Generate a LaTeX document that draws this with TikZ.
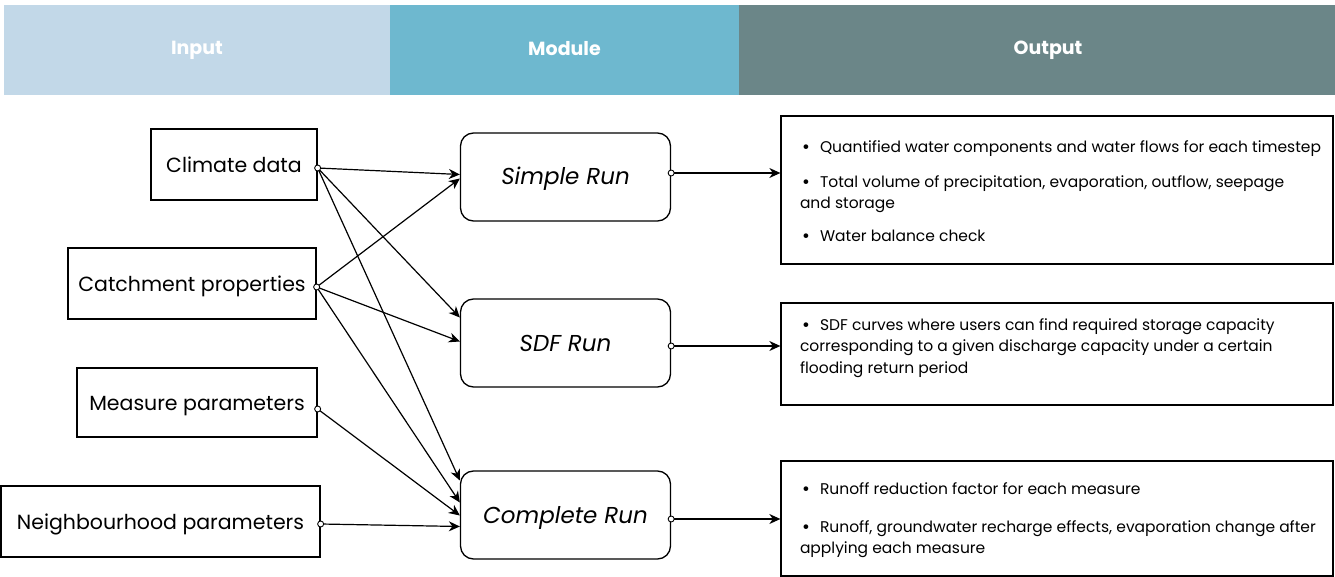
\documentclass[tikz,border=0pt]{standalone}
\usepackage{fontspec}
\setmainfont{Poppins}
\usetikzlibrary{arrows.meta,calc}
\definecolor{hin}{HTML}{C2D8E8}
\definecolor{hmod}{HTML}{6EB8CF}
\definecolor{hout}{HTML}{6B8688}
\newcommand\bul{\makebox[20pt][l]{\hspace{2pt}{\fontsize{19}{0}\selectfont\raisebox{-1pt}{\textbullet}}}}
\newcommand\obody[2]{\parbox[c][#1][t]{552pt}{\raggedright\leftskip=19pt\parindent=0pt
  \fontsize{15.5}{21}\selectfont #2}}
\begin{document}
\begin{tikzpicture}[x=1pt,y=-1pt,
  inbox/.style={draw,line width=1.3pt,minimum height=71pt,inner sep=0pt,text height=16.5pt,text depth=0pt,font=\fontsize{20.5}{25}\selectfont},
  modbox/.style={draw,line width=1.3pt,rounded corners=13pt,minimum width=210pt,minimum height=88pt,inner sep=0pt,text height=16pt,text depth=0pt,font=\fontsize{23}{27}\selectfont\itshape},
  outbox/.style={draw,line width=1.3pt,inner sep=0pt,minimum width=552pt},
  hdr/.style={inner sep=0pt,minimum height=90pt,font=\fontsize{19}{22}\selectfont\bfseries,text=white},
  conn/.style={line width=1.2pt,-{Stealth[length=11pt,width=10pt,inset=3.5pt]}},
  dot/.style={circle,draw,fill=white,line width=0.9pt,inner sep=0pt,minimum size=6pt}]
\useasboundingbox (0,0) rectangle (1335,577);
% header
\node[hdr,fill=hin,minimum width=386pt] (hin) at (197,50) {\raisebox{4pt}{Input}};
\node[hdr,fill=hmod,minimum width=349pt] (hmod) at (564.5,50) {\raisebox{4pt}{Module}};
\node[hdr,fill=hout,minimum width=618pt] (hout) at (1048,50) {\raisebox{4pt}{Output}};
% inputs
\node[inbox,minimum width=166pt] (cd) at (234,164.5) {Climate data};
\node[inbox,minimum width=248pt] (cp) at (192,283.5) {Catchment properties};
\node[inbox,minimum width=240pt,minimum height=69pt] (mp) at (197,402.5) {Measure parameters};
\node[inbox,minimum width=319pt] (np) at (160.5,521.5) {Neighbourhood parameters};
% modules
\node[modbox] (sr) at (565.5,177) {Simple Run};
\node[modbox] (sdf) at (565.5,343) {SDF Run};
\node[modbox] (cr) at (565.5,515) {Complete Run};
% outputs
\node[outbox,minimum height=148pt] (o1) at (1057,190) {\obody{148pt}{\rule{0pt}{37pt}\bul Quantified water components and water flows for each timestep\\[14pt]
\bul Total volume of precipitation, evaporation, outflow, seepage\\
and storage\\[12pt]
\bul Water balance check}};
\node[outbox,minimum height=102pt] (o2) at (1057,354) {\obody{102pt}{\rule{0pt}{27pt}\bul SDF curves where users can find required storage capacity\\[0.5pt]
corresponding to a given discharge capacity under a certain\\[0.5pt]
flooding return period}};
\node[outbox,minimum height=115pt] (o3) at (1057,518.5) {\obody{115pt}{\rule{0pt}{33pt}\bul Runoff reduction factor for each measure\\[17pt]
\bul Runoff, groundwater recharge effects, evaporation change after\\
applying each measure}};
% connector ports
\coordinate (cdo) at ([yshift=-3.5pt]cd.east);
\coordinate (cpo) at ([yshift=-3.5pt]cp.east);
\coordinate (mpo) at ([yshift=-6.5pt]mp.east);
\coordinate (npo) at ([yshift=-2.5pt]np.east);
\coordinate (sro) at ([yshift=4pt]sr.east);
\coordinate (sdfo) at ([yshift=-3pt]sdf.east);
\coordinate (cro) at ([yshift=-4pt]cr.east);
% connectors
\draw[conn] (cdo) -- ([yshift=2.5pt]sr.west);
\draw[conn] (cpo) -- ([yshift=-1.5pt]sr.west);
\draw[conn] (cdo) -- ([yshift=25.5pt]sdf.west);
\draw[conn] (cpo) -- ([yshift=1.5pt]sdf.west);
\draw[conn] (cdo) -- ([yshift=34.5pt]cr.west);
\draw[conn] (cpo) -- ([yshift=12.5pt]cr.west);
\draw[conn] (mpo) -- ([yshift=-0.5pt]cr.west);
\draw[conn] (npo) -- ([yshift=-11.5pt]cr.west);
\draw[conn] (sro) -- (sro -| o1.west);
\draw[conn] (sdfo) -- (sdfo -| o2.west);
\draw[conn] (cro) -- (cro -| o3.west);
% port circles
\node[dot] (cdd) at (cdo) {};
\node[dot] (cpd) at (cpo) {};
\node[dot] (mpd) at (mpo) {};
\node[dot] (npd) at (npo) {};
\node[dot] (srd) at (sro) {};
\node[dot] (sdfd) at (sdfo) {};
\node[dot] (crd) at (cro) {};
\end{tikzpicture}
\end{document}
